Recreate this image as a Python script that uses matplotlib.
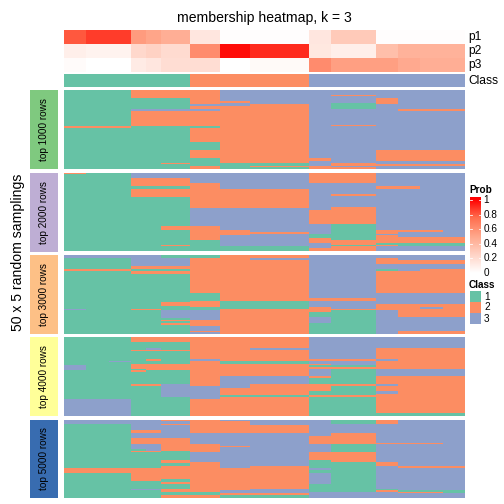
import numpy as np
import matplotlib
matplotlib.use("Agg")
import matplotlib.pyplot as plt
from matplotlib.colors import ListedColormap, LinearSegmentedColormap

plt.rcParams['font.family'] = ['Liberation Sans', 'DejaVu Sans']

# column blocks (number of samples in each block, left to right)
block_widths = [3, 3, 3, 2, 2, 4, 4, 4, 8, 3, 3, 3, 3, 3, 3, 3]
block_class = [1, 1, 1, 1, 1, 1, 2, 2, 2, 3, 3, 3, 3, 3, 3, 3]

# membership probabilities per block
p1 = [0.80, 0.86, 0.86, 0.55, 0.50, 0.45, 0.14, 0.01, 0.01, 0.14, 0.30, 0.30, 0.01, 0.01, 0.01, 0.01]
p2 = [0.09, 0.07, 0.07, 0.22, 0.25, 0.20, 0.62, 0.97, 0.90, 0.13, 0.09, 0.09, 0.36, 0.43, 0.43, 0.43]
p3 = [0.02, 0.00, 0.00, 0.11, 0.14, 0.19, 0.19, 0.00, 0.03, 0.62, 0.53, 0.53, 0.53, 0.48, 0.45, 0.45]
p_labels = ["p1", "p2", "p3"]

# class per sampling (run lengths down each block, G=1, O=2, B=3)
top_1000 = [
    "G23 O1 G26", "G23 O1 G26", "G23 O1 G26",
    "O5 G7 B1 O10 G27", "O5 G7 B1 O10 G27",
    "O5 G7 B1 O10 G23 O1 G3",
    "O9 B1 O2 B1 O10 G1 O9 G5 O5 G5 O2",
    "B7 O1 B2 O36 G4",
    "B9 O37 G2 O1 G1",
    "B43 O2 B3 O2",
    "B3 O1 B4 G4 B10 O1 B23 O2 B1 O1", "B3 O1 B4 G4 B10 O1 B23 O2 B1 O1",
    "B5 O4 B29 O7 B2 O1 B2",
    "B12 O1 B25 O7 B2 O1 B2", "B12 O1 B25 O7 B2 O1 B2", "B12 O1 B25 O7 B2 O1 B2",
]
top_2000 = [
    "O1 G49", "G50", "G50",
    "B4 O5 G2 O5 G34", "B4 O5 G2 O5 G34",
    "B4 O5 G2 O5 G18 O3 G9 O1 G3",
    "B7 O16 B11 O9 G7",
    "B11 O12 B14 O3 B7 G3",
    "B11 O12 B15 O1 B8 G3",
    "O7 B17 O9 B6 G3 O3 B3 O2",
    "O7 B7 O1 B7 O11 G10 O3 G1 O3", "O7 B7 O1 B7 O11 G10 O3 G1 O3",
    "B9 O2 B26 O2 B1 O5 G1 O1 B3",
    "B9 O2 B26 O1 B3 O4 G2 B3",
    "B37 O1 B3 O4 G2 B3",
    "B41 O4 G2 B3",
]
top_3000 = [
    "B2 G7 O1 G24 B1 G15", "B2 G7 O1 G40", "B2 G7 O1 G40",
    "B7 O2 G1 O2 G22 O1 G15", "B7 O2 G1 O2 G22 O1 G15",
    "G2 B5 O2 G1 O2 G18 O2 G3 B5 G1 O1 G1 O1 G6",
    "G2 O22 G5 O4 G2 B6 O4 B3 O1 B1",
    "O29 G5 O16",
    "O2 B1 O26 G5 O16",
    "B27 O2 B4 O3 G3 B4 G7",
    "B27 O2 B5 O1 G15", "B27 O2 B5 O1 G15",
    "B2 O4 B3 G1 O14 B7 O4 B15",
    "B3 O3 B4 O14 B7 O8 B9 O2",
    "B3 O3 B3 O15 B7 O2 B1 O5 B9 O2",
    "B3 O3 B3 O15 B7 O8 B9 O2",
]
top_4000 = [
    "G18 B3 G18 B11", "G39 B11", "G15 B1 G23 B11",
    "O3 G5 O1 G8 O3 G1 O1 G8 O1 G19",
    "O3 G4 B1 O1 G5 O1 G2 O4 G9 O1 G19",
    "O3 G5 O1 G8 O4 G9 B8 G12",
    "O14 B1 O16 B8 O11",
    "O15 G2 O8 B7 O5 G1 O12",
    "O7 B1 O7 G2 O8 B5 O7 G1 O12",
    "B14 O1 B2 O1 G1 O1 B5 O1 G4 O4 G3 O1 G12",
    "B14 O1 B3 G1 O1 G10 O1 G6 O1 G12", "B14 O1 B3 G1 O1 G10 O1 G6 O1 G12",
    "B7 O7 B1 O5 B5 O5 B1 O3 B2 O12 G2",
    "B7 O13 B5 O23 G2", "B7 O13 B5 O23 G2", "B7 O13 B5 O23 G2",
]
top_5000 = [
    "B3 G28 O3 G16", "B3 G28 O3 G16", "B3 G28 O3 G16",
    "B7 O2 B3 O4 B3 G1 O1 G10 O8 G5 B1 G5",
    "B7 O2 B3 O4 B4 O1 G10 O8 G5 B1 G5",
    "O1 B2 O1 B8 O8 G6 O2 G2 O8 G2 O1 G3 O2 G2 O2",
    "O9 B7 O5 B6 O19 G2 O2",
    "B1 O8 B8 O1 B13 O14 B2 O1 G2",
    "B4 O5 B21 O14 B3 O1 G2",
    "B11 O5 B5 O5 G5 B1 G2 B7 G5 B4",
    "G3 B6 O7 G5 O6 G19 B4", "G3 B6 O7 G5 O6 G19 B4",
    "O3 B12 O1 B11 O3 B14 G1 O1 B4",
    "B15 O1 B14 O1 B14 G1 O1 B3", "B15 O1 B14 O1 B14 G1 O1 B3",
    "B30 O1 B14 G2 B3",
]
groups = [top_1000, top_2000, top_3000, top_4000, top_5000]
group_labels = ["top 1000 rows", "top 2000 rows", "top 3000 rows", "top 4000 rows", "top 5000 rows"]
group_colors = ["#7FC97F", "#BEAED4", "#FDC086", "#FFFF99", "#386CB0"]

class_colors = ["#66C2A5", "#FC8D62", "#8DA0CB"]
class_cmap = ListedColormap(class_colors)
prob_cmap = LinearSegmentedColormap.from_list(
    "prob", [(0, "#FFFFFF"), (0.25, "#FFD3C5"), (0.5, "#FFA68A"), (0.75, "#FF6E4E"), (1, "#FF0000")])

W = H = 504
fig = plt.figure(figsize=(7, 7), dpi=72)


def box(x0, y0, x1, y1):
    # pixel box, top-left origin
    return fig.add_axes([x0 / W, 1 - y1 / H, (x1 - x0) / W, (y1 - y0) / H])


def decode(col):
    out = []
    for tok in col.split():
        code = {"G": 1, "O": 2, "B": 3}[tok[0]]
        out += [code] * int(tok[1:])
    return out


def expand(values):
    return np.repeat(np.array(values, dtype=float), block_widths)


X0, X1 = 64, 465

# top annotation
ax = box(X0, 30, X1, 72)
pm = np.vstack([expand(p1), expand(p2), expand(p3)])
ax.imshow(pm, cmap=prob_cmap, vmin=0, vmax=1, aspect="auto", interpolation="nearest")
ax.set_axis_off()
for i, lab in enumerate(p_labels):
    fig.text((X1 + 3) / W, 1 - (37 + 14 * i) / H, lab, fontsize=12, va="center", ha="left")

ax = box(X0, 73.5, X1, 87.5)
ax.imshow(expand(block_class)[None, :] - 1, cmap=class_cmap, vmin=0, vmax=2,
          aspect="auto", interpolation="nearest")
ax.set_axis_off()
fig.text((X1 + 3) / W, 1 - 81 / H, "Class", fontsize=12, va="center", ha="left")

fig.text((X0 + X1) / 2 / W, 1 - 18 / H, "membership heatmap, k = 3", fontsize=14,
         ha="center", va="center")

# sampling groups
tops = [90, 172.7, 255, 337.3, 419.5]
gh = 78.8
for g, cols in enumerate(groups):
    mat = np.column_stack([np.array(decode(c)) for c in cols])
    mat = np.repeat(mat, block_widths, axis=1)
    ax = box(X0, tops[g], X1, tops[g] + gh)
    ax.imshow(mat - 1, cmap=class_cmap, vmin=0, vmax=2, aspect="auto", interpolation="nearest")
    ax.set_axis_off()
    lab_ax = box(30, tops[g], 58, tops[g] + gh)
    lab_ax.set_facecolor(group_colors[g])
    lab_ax.set_xticks([])
    lab_ax.set_yticks([])
    for s in lab_ax.spines.values():
        s.set_visible(False)
    lab_ax.text(0.5, 0.5, group_labels[g], rotation=90, fontsize=10,
                ha="center", va="center", transform=lab_ax.transAxes)

fig.text(18 / W, 1 - 252 / H, "50 x 5 random samplings", rotation=90, fontsize=14,
         ha="center", va="center")

# legends
fig.text(469 / W, 1 - 190 / H, "Prob", fontsize=10, fontweight="bold", ha="left", va="center")
cax = box(470, 197, 481, 276)
grad = np.linspace(-0.041, 1.041, 200)[:, None]
cax.imshow(grad, cmap=prob_cmap, vmin=0, vmax=1, aspect="auto", origin="lower",
           extent=[0, 1, -0.041, 1.041])
cax.set_xlim(0, 1)
cax.set_ylim(-0.041, 1.041)
cax.set_axis_off()
prob_ticks = [0, 0.2, 0.4, 0.6, 0.8, 1]
for t in prob_ticks:
    cax.plot([0, 0.2], [t, t], color="white", lw=0.8)
    cax.plot([0.8, 1], [t, t], color="white", lw=0.8)
    cax.text(1.2, t, "%g" % t, fontsize=10, ha="left", va="center", transform=cax.transData)

fig.text(469 / W, 1 - 285 / H, "Class", fontsize=10, fontweight="bold", ha="left", va="center")
for i, c in enumerate(class_colors):
    y0 = 291 + 11 * i
    sq = box(470, y0, 481, y0 + 10.5)
    sq.set_facecolor(c)
    sq.set_xticks([])
    sq.set_yticks([])
    for s in sq.spines.values():
        s.set_visible(False)
    fig.text(484 / W, 1 - (y0 + 5.5) / H, str(i + 1), fontsize=10, ha="left", va="center")

fig.savefig("out.png", dpi=72)
